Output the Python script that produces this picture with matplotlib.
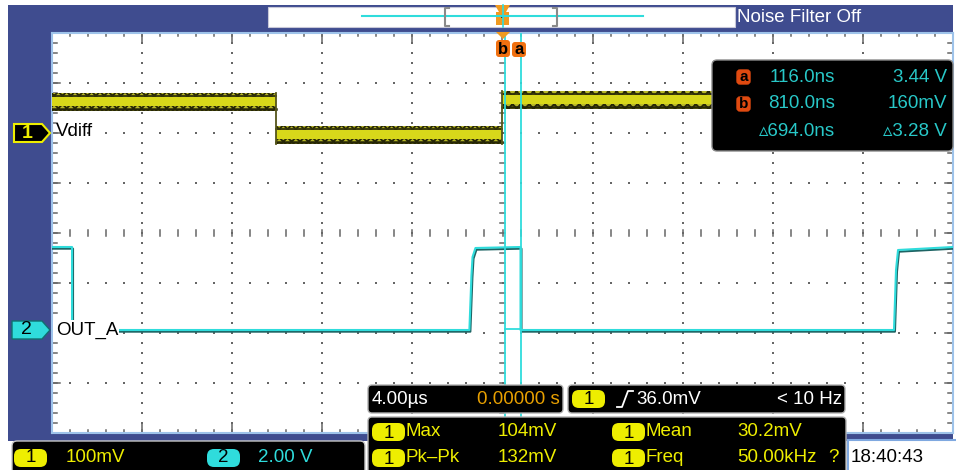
import matplotlib
matplotlib.use("Agg")
import matplotlib.pyplot as plt
import numpy as np
from matplotlib.patches import FancyBboxPatch, Rectangle, Polygon
import matplotlib.patheffects as pe

time_per_div_us = 4.0          # horizontal scale
ch1_scale_mV = 100.0           # CH1 volts/div
ch2_scale_V = 2.0              # CH2 volts/div
ch1_offset_div = 2.0           # CH1 ground marker position
ch2_offset_div = -1.94         # CH2 ground marker position

# CH1 (Vdiff): segment edges (us) and band centre levels (mV)
ch1_edges_us = [-20.0, -10.05, -0.02, 10.0, 20.0]
ch1_levels_mV = [62.0, -4.0, 66.0, -4.0]

# CH2 (OUT_A) trace points
ch2_t_us = [-20.0, -19.11, -19.11, -1.47, -1.38, -1.33, -1.20, 0.80, 0.80,
            17.38, 17.47, 17.56, 20.0]
ch2_V = [3.32, 3.32, 0.0, 0.0, 2.16, 2.92, 3.28, 3.32, 0.0,
         0.0, 2.40, 3.20, 3.32]

# cursors
cursor_b_us = 0.09
cursor_a_us = 0.80

cursor_rows = [("a", "116.0ns", "3.44 V"),
               ("b", "810.0ns", "160mV"),
               ("", "\u25b5694.0ns", "\u25b53.28 V")]

meas_rows = [("Max", "104mV", "Mean", "30.2mV", ""),
             ("Pk\u2013Pk", "132mV", "Freq", "50.00kHz", "?")]

ch_labels = ["Vdiff", "OUT_A"]
ch_scales_txt = ["100mV", "2.00 V"]
timebase_txt = "4.00\u00b5s"
trig_pos_txt = "0.00000 s"
trig_level_txt = "36.0mV"
trig_freq_txt = "< 10 Hz"
clock_txt = "18:40:43"
status_txt = "Noise Filter Off"

# ---------------- style ----------------
W, H = 956, 470
FONT = ["Liberation Sans", "DejaVu Sans"]
FS = 13.5
BLUE = "#3F4C8F"
CYAN = "#2FDCDC"
TEAL = "#1E6464"
YEL = "#EEEE00"
ORANGE = "#F07010"
GRIDC = "#666666"

fig = plt.figure(figsize=(W / 100, H / 100), dpi=100)
fig.patch.set_facecolor("white")

# background (pixel coordinates)
bg = fig.add_axes([0, 0, 1, 1], zorder=0)
bg.set_xlim(0, W); bg.set_ylim(H, 0); bg.axis("off")
bg.add_patch(Rectangle((8, 5), 945, 436, facecolor=BLUE, edgecolor="none"))
bg.add_patch(Rectangle((268, 7), 467, 20, facecolor="white", edgecolor="#C8C8D8", lw=0.8))
bg.plot([362, 643], [16, 16], color=CYAN, lw=1.5)
bg.plot([449, 445, 445, 449], [8, 8, 26, 26], color="#8A8A8A", lw=1.5)
bg.plot([553, 557, 557, 553], [8, 8, 26, 26], color="#8A8A8A", lw=1.5)
bg.plot([503, 503], [5, 27], color=CYAN, lw=1.2)
bg.add_patch(Polygon([[495, 5], [510, 5], [506, 12], [509, 12], [509, 25], [496, 25], [496, 12], [499, 12]],
                     closed=True, facecolor="#F09A20", edgecolor="none"))
bg.add_patch(Rectangle((501.5, 15), 2, 3, facecolor="#303030"))
bg.text(737, 17, status_txt, color="white", fontsize=FS, family=FONT, va="center", ha="left")

# ---------------- scope graticule ----------------
gx0, gx1, gy0, gy1 = 52, 953, 33, 433
ax = fig.add_axes([gx0 / W, (H - gy1) / H, (gx1 - gx0) / W, (gy1 - gy0) / H], zorder=1)
ax.set_xlim(-5 * time_per_div_us, 5 * time_per_div_us)
ax.set_ylim(-4, 4)
ax.set_facecolor("white")
ax.set_xticks([]); ax.set_yticks([])
for s in ax.spines.values():
    s.set_color("#9EC3EA"); s.set_linewidth(1.5)

minor_t = np.arange(-20, 20.001, time_per_div_us / 5)
minor_v = np.arange(-4, 4.001, 0.2)
major_t = [t for t in np.arange(-16, 16.1, 4) if abs(t) > 1e-6]
major_v = [v for v in np.arange(-3, 3.1, 1) if abs(v) > 1e-6]
for t in major_t:
    ax.plot(np.full_like(minor_v[1:-1], t), minor_v[1:-1], ls="none", marker="s", ms=1.7,
            color=GRIDC, mew=0)
for v in major_v:
    ax.plot(minor_t[1:-1], np.full_like(minor_t[1:-1], v), ls="none", marker="s", ms=1.7,
            color=GRIDC, mew=0)
tk = dict(color=GRIDC, lw=1.1)
for v in minor_v[1:-1]:
    ax.plot([-0.12, 0.12], [v, v], **tk)
for t in minor_t[1:-1]:
    ax.plot([t, t], [-0.06, 0.06], **tk)
    ax.plot([t, t], [4, 3.93], **tk)
    ax.plot([t, t], [-4, -3.93], **tk)
for t in major_t:
    ax.plot([t, t], [4, 3.82], **tk)
    ax.plot([t, t], [-4, -3.82], **tk)
ax.plot([0, 0], [4, 3.82], **tk); ax.plot([0, 0], [-4, -3.82], **tk)
for v in minor_v[1:-1]:
    ax.plot([-20, -19.8], [v, v], **tk)
    ax.plot([20, 19.8], [v, v], **tk)
for v in major_v + [0]:
    ax.plot([-20, -19.65], [v, v], **tk)
    ax.plot([20, 19.65], [v, v], **tk)

# ---------------- CH1 trace (noisy band) ----------------
half_dark = 0.18
half_yel = 0.08
plt.rcParams["hatch.linewidth"] = 1.3
for i, lvl in enumerate(ch1_levels_mV):
    y = ch1_offset_div + lvl / ch1_scale_mV
    t0, t1 = ch1_edges_us[i], ch1_edges_us[i + 1]
    ax.fill_between([t0, t1], y - half_dark, y + half_dark, facecolor="#B8B828",
                    edgecolor="#262606", hatch="xxxx", lw=0, zorder=3)
    ax.fill_between([t0, t1], y - half_yel, y + half_yel * 1.2, color="#D8D81A", lw=0, zorder=3)
    ax.plot([t0, t1], [y - half_dark * 0.78] * 2, color="#262606", lw=1.8, zorder=3)
    ax.plot([t0, t1], [y + half_dark * 0.72] * 2, color="#33330A", lw=1.3, zorder=3)
    if i > 0:
        yp = ch1_offset_div + ch1_levels_mV[i - 1] / ch1_scale_mV
        ax.plot([t0, t0], [min(y, yp) - half_dark, max(y, yp) + half_dark],
                color="#55551A", lw=1.3, zorder=3)

# ---------------- CH2 trace ----------------
ch2_y = [ch2_offset_div + v / ch2_scale_V for v in ch2_V]
ax.plot(ch2_t_us, ch2_y, color=CYAN, lw=1.5, zorder=4,
        path_effects=[pe.SimpleLineShadow(offset=(0.7, -1.2), shadow_color=TEAL, alpha=1.0, rho=1),
                      pe.Normal()])

# ---------------- cursors ----------------
ax.axvline(cursor_b_us, color=CYAN, lw=1.3, zorder=5)
ax.axvline(cursor_a_us, color=CYAN, lw=1.3, zorder=5)
ax.plot([cursor_b_us, cursor_a_us], [ch2_offset_div + 0.02] * 2, color=CYAN, lw=1.3, zorder=5)

# ---------------- foreground overlays ----------------
fg = fig.add_axes([0, 0, 1, 1], zorder=2)
fg.set_xlim(0, W); fg.set_ylim(H, 0); fg.axis("off")
fg.patch.set_alpha(0)

def box(x, y, w, h, fc="black", ec="#B8B8B8", r=4, lw=1.0):
    fg.add_patch(FancyBboxPatch((x, y), w, h, boxstyle=f"round,pad=0,rounding_size={r}",
                                facecolor=fc, edgecolor=ec, lw=lw))

def txt(x, y, s, c, ha="left", size=FS, **kw):
    fg.text(x, y, s, color=c, ha=ha, va="center", fontsize=size, family=FONT, **kw)

# trigger marker & cursor badges
fg.add_patch(Polygon([[496, 32], [510, 32], [503, 39]], closed=True, facecolor="#F09A20", edgecolor="none"))
box(496, 40, 14, 17, fc=ORANGE, ec="none", r=3)
txt(503, 49, "b", "black", ha="center", size=12, weight="bold")
box(512, 42, 14, 15, fc=ORANGE, ec="none", r=3)
txt(519, 49, "a", "black", ha="center", size=12, weight="bold")

# channel markers
fg.add_patch(Polygon([[14, 124], [42, 124], [50, 133], [42, 142], [14, 142]], closed=True,
                     facecolor="black", edgecolor=YEL, lw=1.5))
txt(27, 133, "1", YEL, ha="center", size=14, weight="bold")
txt(56, 132, ch_labels[0], "black")
fg.add_patch(Rectangle((53, 320), 66, 20, facecolor="white", edgecolor="none"))
fg.add_patch(Polygon([[12, 321], [42, 321], [50, 330], [42, 339], [12, 339]], closed=True,
                     facecolor=CYAN, edgecolor="#107070", lw=1.0))
txt(26, 330, "2", "black", ha="center", size=14)
txt(56, 330, ch_labels[1], "black")

# cursor readout box
box(712, 60, 241, 91, fc="black", ec="#8A8A8A", r=5)
for i, (lab, tval, vval) in enumerate(cursor_rows):
    yy = 77 + 27 * i
    if lab:
        box(737, yy - 7, 13, 14, fc="#E04A10", ec="#E04A10", r=3, lw=1.0)
        txt(743.5, yy, lab, "black", ha="center", size=11, weight="bold")
    txt(835, yy, tval, "#28C8C8", ha="right")
    txt(947, yy, vval, "#28C8C8", ha="right")

# bottom-left channel scale box
box(12, 441, 353, 40, fc="black", ec="#C8C8C8", r=5)
box(14, 449, 33, 18, fc=YEL, ec="none", r=7)
txt(30.5, 458, "1", "black", ha="center")
txt(66, 457, ch_scales_txt[0], YEL)
box(207, 449, 33, 18, fc=CYAN, ec="none", r=7)
txt(223.5, 458, "2", "black", ha="center")
txt(258, 457, ch_scales_txt[1], CYAN)

# timebase box
box(368, 385, 195, 28, fc="black", ec="#B0B0B0", r=4)
txt(372, 399, timebase_txt, "white")
txt(560, 399, trig_pos_txt, "#E8A000", ha="right")

# trigger box
box(568, 385, 277, 28, fc="black", ec="#B0B0B0", r=4)
box(572, 390, 33, 18, fc=YEL, ec="none", r=7)
txt(588.5, 399, "1", "black", ha="center")
fg.plot([617, 622, 628, 633], [407, 407, 391, 391], color="white", lw=1.3)
txt(636, 399, trig_level_txt, "white")
txt(842, 399, trig_freq_txt, "white", ha="right")

# measurement box
box(368, 417, 478, 60, fc="black", ec="#B0B0B0", r=4)
for i, (n1, v1, n2, v2, q) in enumerate(meas_rows):
    yy = 432 + 26 * i
    box(372, yy - 9, 33, 18, fc=YEL, ec="none", r=7)
    txt(388.5, yy + 1, "1", "black", ha="center")
    txt(406, yy, n1, YEL)
    txt(498, yy, v1, YEL)
    box(612, yy - 9, 33, 18, fc=YEL, ec="none", r=7)
    txt(628.5, yy + 1, "1", "black", ha="center")
    txt(646, yy, n2, YEL)
    txt(737, yy, v2, YEL)
    if q:
        txt(828, yy, q, YEL)

# clock box
fg.add_patch(Rectangle((848, 440), 110, 32, facecolor="white", edgecolor="#7FA8E0", lw=1.5))
txt(851, 458, clock_txt, "black")

fig.savefig("out.png", dpi=100)
